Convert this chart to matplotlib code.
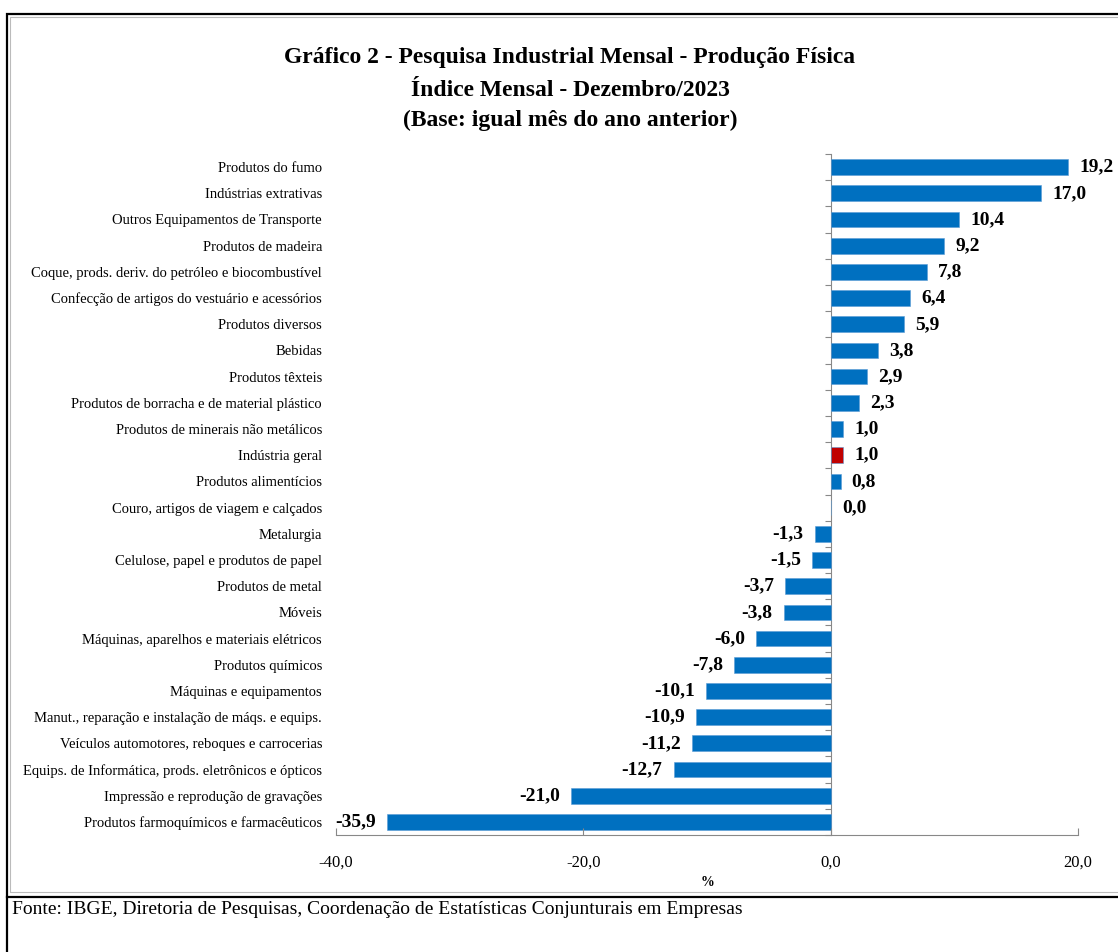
import matplotlib
matplotlib.use("Agg")
import matplotlib.pyplot as plt
from matplotlib.patches import Rectangle
from matplotlib.lines import Line2D
import numpy as np

categories = [
    "Produtos do fumo",
    "Indústrias extrativas",
    "Outros Equipamentos de Transporte",
    "Produtos de madeira",
    "Coque, prods. deriv. do petróleo e biocombustível",
    "Confecção de artigos do vestuário e acessórios",
    "Produtos diversos",
    "Bebidas",
    "Produtos têxteis",
    "Produtos de borracha e de material plástico",
    "Produtos de minerais não metálicos",
    "Indústria geral",
    "Produtos alimentícios",
    "Couro, artigos de viagem e calçados",
    "Metalurgia",
    "Celulose, papel e produtos de papel",
    "Produtos de metal",
    "Móveis",
    "Máquinas, aparelhos e materiais elétricos",
    "Produtos químicos",
    "Máquinas e equipamentos",
    "Manut., reparação e instalação de máqs. e equips.",
    "Veículos automotores, reboques e carrocerias",
    "Equips. de Informática, prods. eletrônicos e ópticos",
    "Impressão e reprodução de gravações",
    "Produtos farmoquímicos e farmacêuticos",
]
values = [19.2, 17.0, 10.4, 9.2, 7.8, 6.4, 5.9, 3.8, 2.9, 2.3, 1.0, 1.0, 0.8, 0.0,
          -1.3, -1.5, -3.7, -3.8, -6.0, -7.8, -10.1, -10.9, -11.2, -12.7, -21.0, -35.9]
highlight = "Indústria geral"
x_ticks = [-40.0, -20.0, 0.0, 20.0]

title_lines = ["Gráfico 2 - Pesquisa Industrial Mensal - Produção Física",
               "Índice Mensal - Dezembro/2023",
               "(Base: igual mês do ano anterior)"]
source = "Fonte: IBGE, Diretoria de Pesquisas, Coordenação de Estatísticas Conjunturais em Empresas"

SERIF = ["Liberation Serif", "DejaVu Serif"]
BLUE = "#0070C0"
RED = "#C00000"

def fmt(v):
    return f"{v:.1f}".replace(".", ",")

fig = plt.figure(figsize=(11.18, 9.52), dpi=100)
W, H = 1118, 952
ax = fig.add_axes([336 / W, 1 - 835 / H, (1078 - 336) / W, (835 - 154) / H])

n = len(categories)
ypos = np.arange(n)
colors = [RED if c == highlight else BLUE for c in categories]
ax.barh(ypos, values, height=0.6, color=colors, edgecolor="#5B9BD5", linewidth=0.4)
ax.set_ylim(n - 0.5, -0.5)
ax.set_xlim(x_ticks[0], x_ticks[-1])

ax.set_yticks(ypos)
ax.set_yticklabels(categories, family=SERIF, fontsize=10.5)
ax.tick_params(axis="y", length=0, pad=10)
ax.set_xticks(x_ticks)
ax.set_xticklabels([fmt(t) for t in x_ticks], family=SERIF, fontsize=12)
ax.tick_params(axis="x", direction="in", length=5, color="#888888", pad=14)

for s in ["top", "right", "left"]:
    ax.spines[s].set_visible(False)
ax.spines["bottom"].set_color("#888888")

# vertical axis at zero with category boundary ticks
loc = (0 - x_ticks[0]) / (x_ticks[-1] - x_ticks[0])
sec = ax.secondary_yaxis(loc)
sec.set_yticks(np.arange(n + 1) - 0.5)
sec.set_yticklabels([])
sec.tick_params(axis="y", direction="in", length=4, color="#888888")
for s in sec.spines.values():
    s.set_color("#888888")

for y, v in zip(ypos, values):
    if v >= 0:
        ax.text(v + 0.9, y, fmt(v), ha="left", va="center", family=SERIF,
                fontweight="bold", fontsize=14)
    else:
        ax.text(v - 0.9, y, fmt(v), ha="right", va="center", family=SERIF,
                fontweight="bold", fontsize=14)

fig.text(708 / W, 1 - 882 / H, "%", ha="center", va="center", family=SERIF,
         fontsize=10, fontweight="bold")

# Title
ty = [57, 90, 120]
for line, yy in zip(title_lines, ty):
    fig.text(570 / W, 1 - yy / H, line, ha="center", va="center", family=SERIF,
             fontweight="bold", fontsize=17)

# Source
fig.text(12 / W, 1 - 910 / H, source, ha="left", va="center", family=SERIF, fontsize=14)

# Frame and separator
fig.add_artist(Rectangle((10 / W, 1 - 892 / H), 1.2, (892 - 17) / H, transform=fig.transFigure,
                         fill=False, edgecolor="#BBBBBB", linewidth=0.8))
fig.add_artist(Rectangle((7 / W, -0.05), 1.2, 1 - 14 / H + 0.05, transform=fig.transFigure,
                         fill=False, edgecolor="black", linewidth=1.6))
fig.add_artist(Line2D([7 / W, 1.0], [1 - 897 / H, 1 - 897 / H], transform=fig.transFigure,
                      color="black", linewidth=1.6))

fig.savefig("out.png", dpi=100)
